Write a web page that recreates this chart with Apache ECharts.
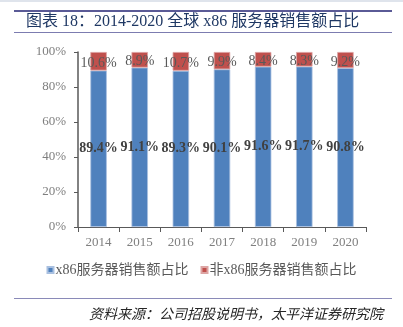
<!DOCTYPE html>
<html>
<head>
<meta charset="utf-8">
<script src="https://cdn.jsdelivr.net/npm/echarts@6/dist/echarts.min.js"></script>
<style>
  html, body { margin: 0; padding: 0; background: #fff; }
  #chart { width: 403px; height: 327px; }
</style>
</head>
<body>
<div id="chart"></div>
<script>
// Global server sales share, x86 vs non-x86 (%)
const years = ['2014', '2015', '2016', '2017', '2018', '2019', '2020'];
const x86Share = [89.4, 91.1, 89.3, 90.1, 91.6, 91.7, 90.8];
const nonX86Share = [10.6, 8.9, 10.7, 9.9, 8.4, 8.3, 9.2];
const seriesNames = ['x86服务器销售额占比', '非x86服务器销售额占比'];

const serif = '"Liberation Serif", "Times New Roman", "Noto Sans CJK SC", serif';
const chart = echarts.init(document.getElementById('chart'), null, { renderer: 'canvas' });

chart.setOption({
  animation: false,
  backgroundColor: '#ffffff',
  grid: { left: 78, right: 37, top: 52, bottom: 100, containLabel: false },
  legend: {
    data: seriesNames,
    bottom: 45,
    left: 'center',
    itemWidth: 6,
    itemHeight: 6,
    itemGap: 12,
    icon: 'rect',
    textStyle: { fontFamily: serif, fontSize: 14, color: '#595959', padding: [0, 0, 0, -3] }
  },
  xAxis: {
    type: 'category',
    data: years,
    axisLine: { lineStyle: { color: '#595959', width: 1 } },
    axisTick: { show: true, alignWithLabel: false, length: 5, lineStyle: { color: '#595959' } },
    axisLabel: { fontFamily: serif, fontSize: 13, color: '#7f7f7f', margin: 9 }
  },
  yAxis: {
    type: 'value',
    min: 0,
    max: 100,
    interval: 20,
    axisLine: { show: true, lineStyle: { color: '#595959', width: 1.5 } },
    axisTick: { show: true, length: 4, lineStyle: { color: '#595959' } },
    splitLine: { show: false },
    axisLabel: { fontFamily: serif, fontSize: 13, color: '#7f7f7f', margin: 12, formatter: '{value}%' }
  },
  series: [
    {
      name: seriesNames[0],
      type: 'bar',
      stack: 'share',
      barWidth: '40%',
      data: x86Share,
      itemStyle: { color: '#4F81BD', borderColor: '#a9c0e0', borderWidth: 0.8 },
      label: {
        show: true,
        position: 'inside',
        formatter: p => p.value.toFixed(1) + '%',
        fontFamily: serif,
        fontSize: 14,
        fontWeight: 'bold',
        color: '#404040'
      }
    },
    {
      name: seriesNames[1],
      type: 'bar',
      stack: 'share',
      barWidth: '40%',
      data: nonX86Share,
      itemStyle: { color: '#C0504D', borderColor: '#dda5a4', borderWidth: 0.8 },
      label: {
        show: true,
        position: 'inside',
        offset: [0, 2],
        formatter: p => p.value.toFixed(1) + '%',
        fontFamily: serif,
        fontSize: 14,
        color: '#595959'
      }
    }
  ],
  graphic: [
    { type: 'rect', shape: { x: 0, y: 0, width: 403, height: 2 }, style: { fill: '#dfe4ec' } },
    { type: 'line', shape: { x1: 14, y1: 11, x2: 392, y2: 11 }, style: { stroke: '#5a5a96', lineWidth: 2 } },
    {
      type: 'text', left: 26, top: 14,
      style: {
        text: '图表 18：2014-2020 全球 x86 服务器销售额占比',
        fontFamily: serif, fontSize: 16, fill: '#1f3864'
      }
    },
    { type: 'line', shape: { x1: 14, y1: 32.5, x2: 392, y2: 32.5 }, style: { stroke: '#7c7cb0', lineWidth: 1 } },
    { type: 'line', shape: { x1: 14, y1: 298.5, x2: 392, y2: 298.5 }, style: { stroke: '#8a8ab8', lineWidth: 1 } },
    {
      type: 'text', right: 20, top: 308,
      style: {
        text: '资料来源：公司招股说明书，太平洋证券研究院',
        fontFamily: serif, fontSize: 14, fontStyle: 'italic', fill: '#262626'
      }
    }
  ]
});
</script>
</body>
</html>
